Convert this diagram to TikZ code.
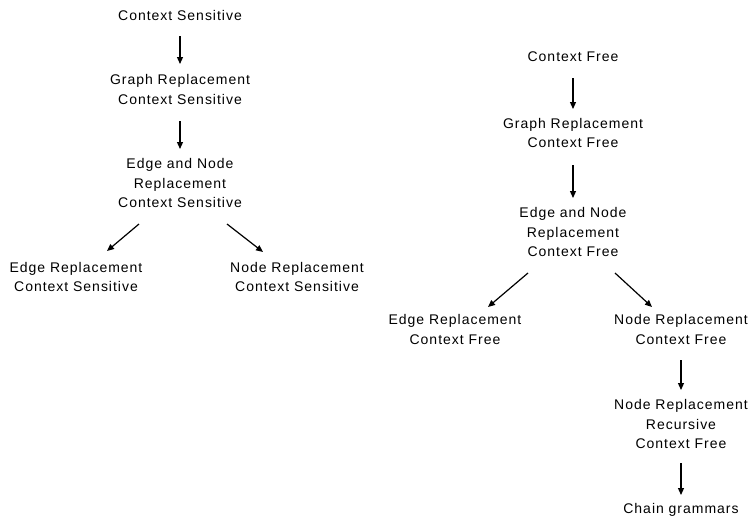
\documentclass[tikz,border=0pt]{standalone}
\usepackage{fontspec}
\setmainfont[LetterSpace=7]{Liberation Sans}
\usetikzlibrary{arrows.meta}
\begin{document}
\begin{tikzpicture}[x=1pt,y=-1pt,
  lbl/.style={font=\fontsize{14}{19.5}\selectfont, align=center, inner sep=0pt},
  arr/.style={line width=1.2pt, -{Triangle[length=7pt,width=6pt]}}]
\useasboundingbox (0,0) rectangle (753,517);
% left tree
\node[lbl] (cs0) at (180,15) {Context Sensitive};
\node[lbl] (gcs) at (180,89.5) {Graph Replacement\\Context Sensitive};
\node[lbl] (ecs) at (180,183) {Edge and Node\\Replacement\\Context Sensitive};
\node[lbl] (ercs) at (76,277) {Edge Replacement\\Context Sensitive};
\node[lbl] (nrcs) at (297,277) {Node Replacement\\Context Sensitive};
% right tree
\node[lbl] (cf0) at (573,57) {Context Free};
\node[lbl] (gcf) at (573,133) {Graph Replacement\\Context Free};
\node[lbl] (ecf) at (573,232) {Edge and Node\\Replacement\\Context Free};
\node[lbl] (ercf) at (455,329.5) {Edge Replacement\\Context Free};
\node[lbl] (nrcf) at (681,329.5) {Node Replacement\\Context Free};
\node[lbl] (nrrcf) at (681,424) {Node Replacement\\Recursive\\Context Free};
\node[lbl] (chain) at (681,510) {Chain grammars};
% arrows
\draw[arr] (cs0.south |- 0,36) -- (cs0.south |- 0,64);
\draw[arr] (gcs.south |- 0,121) -- (gcs.south |- 0,149);
\draw[arr] ([xshift=-41pt]ecs.south |- 0,224) -- ([xshift=31pt]ercs.north |- 0,251);
\draw[arr] ([xshift=47pt]ecs.south |- 0,224) -- ([xshift=-34pt]nrcs.north |- 0,252);
\draw[arr] (cf0.south |- 0,78) -- (cf0.south |- 0,109);
\draw[arr] (gcf.south |- 0,165) -- (gcf.south |- 0,198);
\draw[arr] ([xshift=-45pt]ecf.south |- 0,273) -- ([xshift=33pt]ercf.north |- 0,307);
\draw[arr] ([xshift=42pt]ecf.south |- 0,273) -- ([xshift=-29pt]nrcf.north |- 0,307);
\draw[arr] (nrcf.south |- 0,360) -- (nrcf.south |- 0,390);
\draw[arr] (nrrcf.south |- 0,463) -- (nrrcf.south |- 0,495);
\end{tikzpicture}
\end{document}
